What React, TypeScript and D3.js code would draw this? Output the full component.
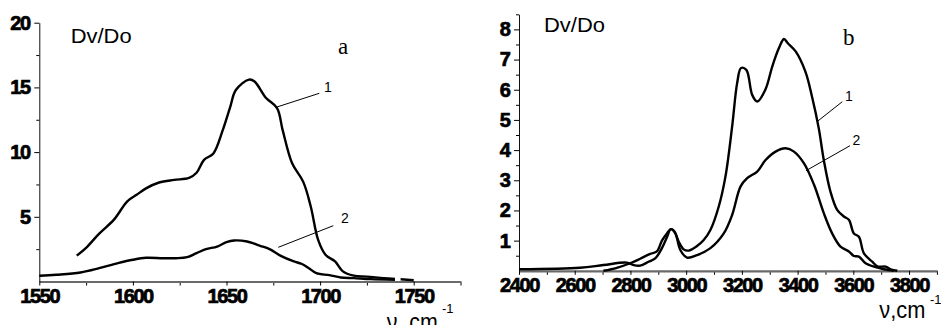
import React, { useEffect, useRef } from 'react';
import * as d3 from 'd3';

// panel a, 1550-1775 cm-1
const aNu1 = [1570, 1575, 1582, 1590, 1597, 1602, 1607, 1614, 1622, 1630, 1634, 1638, 1643, 1648, 1652, 1655, 1662, 1665, 1671, 1677, 1680, 1685, 1691, 1695, 1699, 1703, 1708, 1712, 1718, 1725, 1734, 1740];
const aD1 = [2.0, 2.6, 3.7, 4.8, 6.2, 6.7, 7.2, 7.65, 7.85, 8.0, 8.4, 9.4, 9.9, 11.7, 13.5, 14.8, 15.6, 15.45, 14.2, 13.4, 11.7, 9.15, 7.7, 5.8, 3.2, 2.05, 1.55, 0.8, 0.45, 0.38, 0.26, 0.2];
const aNuTail = [1743, 1750];
const aDTail = [0.17, 0.1];
const aNu2 = [1550, 1559, 1572, 1582, 1592, 1600, 1607, 1616, 1623, 1629, 1634, 1639, 1645, 1650, 1654, 1661, 1668, 1673, 1679, 1686, 1690, 1694, 1698, 1705, 1711, 1718, 1727, 1740];
const aD2 = [0.44, 0.52, 0.7, 1.03, 1.42, 1.68, 1.83, 1.8, 1.8, 1.88, 2.19, 2.5, 2.7, 3.04, 3.17, 3.09, 2.76, 2.5, 1.98, 1.55, 1.37, 1.03, 0.64, 0.49, 0.31, 0.26, 0.18, 0.13];
const aXTicks = [1550, 1600, 1650, 1700, 1750];
const aXMinor = [1575, 1625, 1675, 1725, 1775];
const aYTicks = [5, 10, 15, 20];
const aYMinor = [2.5, 7.5, 12.5, 17.5];

// panel b, 2400-3900 cm-1
const bNu1 = [2703, 2751, 2799, 2835, 2871, 2895, 2913, 2931, 2945, 2957, 2973, 2991, 3009, 3039, 3063, 3087, 3117, 3141, 3165, 3183, 3197, 3216, 3237, 3255, 3285, 3309, 3333, 3351, 3365, 3393, 3428, 3452, 3476, 3494, 3518, 3542, 3566, 3584, 3602, 3620, 3638, 3668, 3688, 3716, 3734, 3758];
const bD1 = [0, 0.1, 0.25, 0.4, 0.56, 0.64, 1.0, 1.24, 1.38, 1.32, 0.97, 0.71, 0.67, 0.82, 1.02, 1.35, 2.13, 3.12, 4.78, 6.22, 6.72, 6.66, 5.83, 5.61, 6.02, 6.77, 7.38, 7.68, 7.54, 7.27, 6.6, 5.76, 4.72, 3.67, 2.62, 2.02, 1.8, 1.69, 1.24, 1.13, 0.58, 0.3, 0.14, 0.14, 0.05, 0];
const bNu2 = [2400, 2619, 2703, 2787, 2811, 2835, 2865, 2889, 2913, 2931, 2945, 2961, 2979, 3003, 3039, 3087, 3135, 3165, 3195, 3219, 3255, 3285, 3321, 3357, 3387, 3423, 3459, 3494, 3524, 3554, 3584, 3602, 3620, 3644, 3680, 3710, 3746];
const bD2 = [0.05, 0.1, 0.19, 0.27, 0.19, 0.17, 0.3, 0.41, 0.75, 1.11, 1.38, 1.24, 0.69, 0.44, 0.52, 0.75, 1.24, 1.85, 2.79, 3.07, 3.29, 3.67, 3.95, 4.06, 3.95, 3.56, 2.85, 1.91, 1.24, 0.8, 0.64, 0.49, 0.47, 0.25, 0.12, 0.05, 0];
const bXTicks = [2400, 2600, 2800, 3000, 3200, 3400, 3600, 3800];
const bXMinor = [2500, 2700, 2900, 3100, 3300, 3500, 3700, 3900];
const bYTicks = [1, 2, 3, 4, 5, 6, 7, 8];
const bYMinor = [0.5, 1.5, 2.5, 3.5, 4.5, 5.5, 6.5, 7.5, 8.5];

const SANS = "'Liberation Sans', Arial, sans-serif";
const SERIF = "'Liberation Serif', 'Times New Roman', serif";

type Pt = [number, number];
const zip = (xs: number[], ys: number[]): Pt[] => xs.map((x, i) => [x, ys[i]]);

const App = () => {
  const svgRef = useRef<SVGSVGElement>(null);

  useEffect(() => {
    if (!svgRef.current) return;
    const svg = d3.select(svgRef.current);
    svg.selectAll('*').remove();

    // heavy, tight digits like the scanned original
    const tickText = (sel: any) =>
      sel.selectAll('text')
        .style('font-family', SANS)
        .style('font-size', '20px')
        .style('font-weight', 'bold')
        .style('letter-spacing', '-1.4px')
        .attr('fill', '#000')
        .attr('stroke', '#000')
        .attr('stroke-width', 0.7);

    const panel = (cfg: any) => {
      const x = d3.scaleLinear().domain(cfg.xDomain).range(cfg.xRange);
      const y = d3.scaleLinear().domain(cfg.yDomain).range(cfg.yRange);
      const g = svg.append('g');

      // minor ticks
      g.append('g')
        .attr('transform', `translate(0,${cfg.yRange[0]})`)
        .call(d3.axisBottom(x).tickValues(cfg.xMinor).tickSize(4).tickFormat(() => '').tickSizeOuter(0))
        .call(s => s.select('.domain').remove());
      g.append('g')
        .attr('transform', `translate(${cfg.xRange[0]},0)`)
        .call(d3.axisLeft(y).tickValues(cfg.yMinor).tickSize(3).tickFormat(() => '').tickSizeOuter(0))
        .call(s => s.select('.domain').remove());

      // major x axis
      const xa = g.append('g')
        .attr('transform', `translate(0,${cfg.yRange[0]})`)
        .call(d3.axisBottom(x).tickValues(cfg.xTicks).tickSize(4).tickPadding(3.5).tickSizeOuter(0).tickFormat(d3.format('d')));
      xa.select('.domain').attr('stroke', '#6a6a6a').attr('stroke-width', 2.2);
      tickText(xa);

      // major y axis
      const ya = g.append('g')
        .attr('transform', `translate(${cfg.xRange[0]},0)`)
        .call(d3.axisLeft(y).tickValues(cfg.yTicks).tickSize(5).tickPadding(4.5).tickSizeOuter(0).tickFormat(d3.format('d')));
      ya.select('.domain').attr('stroke', '#111');
      tickText(ya);

      const line = d3.line<Pt>()
        .x(d => x(d[0]))
        .y(d => y(d[1]))
        .curve(d3.curveCatmullRom.alpha(0.5));

      cfg.series.forEach((pts: Pt[]) => {
        g.append('path')
          .attr('d', line(pts))
          .attr('fill', 'none')
          .attr('stroke', '#000')
          .attr('stroke-width', 2.4)
          .attr('stroke-linejoin', 'round');
      });

      // leader lines and curve numbers
      cfg.leaders.forEach((l: any) => {
        g.append('line')
          .attr('x1', l.x1).attr('y1', l.y1).attr('x2', l.x2).attr('y2', l.y2)
          .attr('stroke', '#000').attr('stroke-width', 1);
        g.append('text')
          .attr('x', l.tx).attr('y', l.ty)
          .attr('fill', '#000')
          .style('font-family', SANS).style('font-size', '14px')
          .text(l.label);
      });

      g.append('text')
        .attr('x', cfg.ylab[0]).attr('y', cfg.ylab[1])
        .attr('fill', '#000')
        .style('font-family', SANS).style('font-size', '21px')
        .attr('textLength', 61).attr('lengthAdjust', 'spacingAndGlyphs')
        .text('Dv/Do');

      g.append('text')
        .attr('x', cfg.letter[0]).attr('y', cfg.letter[1])
        .attr('fill', '#000')
        .style('font-family', SERIF).style('font-size', '23px')
        .text(cfg.letterText);

      g.append('text')
        .attr('x', cfg.xlab[0]).attr('y', cfg.xlab[1])
        .attr('fill', '#000')
        .style('font-family', SANS).style('font-size', '24px')
        .attr('textLength', cfg.xlab[2]).attr('lengthAdjust', 'spacingAndGlyphs')
        .text(cfg.xlabText);
      g.append('text')
        .attr('x', cfg.xsup[0]).attr('y', cfg.xsup[1])
        .attr('fill', '#000')
        .style('font-family', SANS).style('font-size', '13px')
        .text('-1');
    };

    panel({
      xDomain: [1550, 1775], xRange: [39.3, 460.5],
      yDomain: [0, 20], yRange: [281.5, 22.7],
      xTicks: aXTicks, xMinor: aXMinor, yTicks: aYTicks, yMinor: aYMinor,
      series: [zip(aNu1, aD1), zip(aNuTail, aDTail), zip(aNu2, aD2)],
      leaders: [
        { x1: 276, y1: 107.3, x2: 319.3, y2: 93.3, tx: 324, ty: 91.5, label: '1' },
        { x1: 278.3, y1: 247.3, x2: 333.3, y2: 225.7, tx: 341, ty: 223.3, label: '2' },
      ],
      ylab: [70.7, 43.3], letter: [338, 54], letterText: 'a',
      xlab: [386.7, 330, 51], xlabText: 'ν. cm', xsup: [442, 313],
    });

    panel({
      xDomain: [2400, 3900], xRange: [519, 936.9],
      yDomain: [0, 8.5], yRange: [270.8, 14.3],
      xTicks: bXTicks, xMinor: bXMinor, yTicks: bYTicks, yMinor: bYMinor,
      series: [zip(bNu1, bD1), zip(bNu2, bD2)],
      leaders: [
        { x1: 817, y1: 121.7, x2: 842.3, y2: 101.7, tx: 845, ty: 100.7, label: '1' },
        { x1: 806, y1: 170.7, x2: 850, y2: 145.7, tx: 852.5, ty: 145, label: '2' },
      ],
      ylab: [544, 31.7], letter: [843, 45], letterText: 'b',
      xlab: [879.3, 318.3, 46], xlabText: 'ν,cm', xsup: [930, 304],
    });
  }, []);

  return (
    <svg ref={svgRef} width={941} height={325}
      style={{ position: 'absolute', left: 0, top: 0, background: '#fff' }} />
  );
};

export default App;
